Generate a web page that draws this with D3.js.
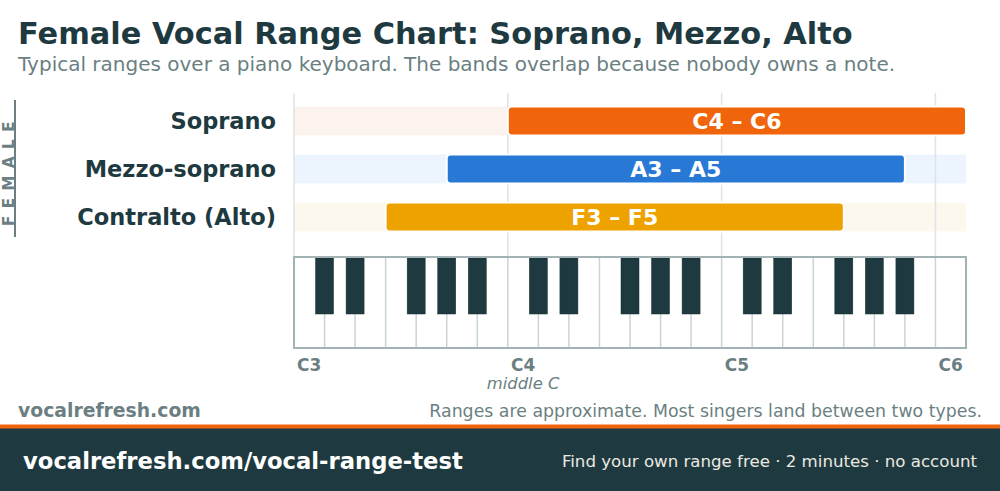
<!DOCTYPE html>
<html><head><meta charset="utf-8">
<script src="https://cdn.jsdelivr.net/npm/d3@7"></script>
<style>
html,body{margin:0;padding:0;background:#fff;}
svg{display:block;font-family:"DejaVu Sans",sans-serif;}
</style></head>
<body>
<svg id="chart" width="1000" height="491"></svg>
<script>
// ---- data ----
const voiceTypes = ["Soprano", "Mezzo-soprano", "Contralto (Alto)"];
const lowNotes = ["C4", "A3", "F3"];
const highNotes = ["C6", "A5", "F5"];
const barColors = ["#f0650c", "#2879d6", "#eea200"];
const trackColors = ["#fcf3ee", "#ecf4fd", "#fcf8ee"];
const octaveTicks = ["C3", "C4", "C5", "C6"];
const keyboardLow = "C3";
const keyboardHigh = "C6";
const letters = ["C", "D", "E", "F", "G", "A", "B"];
const blackAfter = ["C", "D", "F", "G", "A"];

const noteIndex = n => letters.indexOf(n[0]) + (parseInt(n.slice(1)) - 3) * 7;

const svg = d3.select("#chart");
const dark = "#1e3a40", grey = "#6b7f82";

const lo = noteIndex(keyboardLow), hi = noteIndex(keyboardHigh) + 1;
const x = d3.scaleLinear().domain([lo, hi]).range([294, 966]);
const y = d3.scaleBand().domain(voiceTypes).range([97, 241]).paddingInner(0.4).paddingOuter(0.2);

// title
svg.append("text").attr("x", 18).attr("y", 44).attr("font-size", 30.4).attr("font-weight", "bold")
  .attr("fill", dark).text("Female Vocal Range Chart: Soprano, Mezzo, Alto");
svg.append("text").attr("x", 18).attr("y", 71).attr("font-size", 20).attr("fill", grey)
  .text("Typical ranges over a piano keyboard. The bands overlap because nobody owns a note.");

// side label
svg.append("line").attr("x1", 15).attr("x2", 15).attr("y1", 100).attr("y2", 237)
  .attr("stroke", grey).attr("stroke-width", 2);
svg.append("text").attr("transform", "translate(13.5,170) rotate(-90)").attr("text-anchor", "middle")
  .attr("font-size", 15).attr("font-weight", "bold").attr("letter-spacing", 7.5).attr("fill", grey)
  .text("FEMALE");

// tracks
const rows = voiceTypes.map((v, i) => ({v, lo: lowNotes[i], hi: highNotes[i], c: barColors[i], t: trackColors[i]}));
svg.append("g").selectAll("rect").data(rows).join("rect")
  .attr("x", x(lo)).attr("width", x(hi) - x(lo))
  .attr("y", d => y(d.v)).attr("height", y.bandwidth()).attr("fill", d => d.t);

// grid
svg.append("g").selectAll("line").data(octaveTicks).join("line")
  .attr("x1", d => x(noteIndex(d))).attr("x2", d => x(noteIndex(d)))
  .attr("y1", 93).attr("y2", 257).attr("stroke", "#dde4e5").attr("stroke-width", 1.5);

// bars
svg.append("g").selectAll("rect").data(rows).join("rect")
  .attr("x", d => x(noteIndex(d.lo))).attr("width", d => x(noteIndex(d.hi) + 1) - x(noteIndex(d.lo)))
  .attr("y", d => y(d.v)).attr("height", y.bandwidth()).attr("rx", 4)
  .attr("fill", d => d.c).attr("stroke", "#fff").attr("stroke-width", 2);
svg.append("g").selectAll("text").data(rows).join("text")
  .attr("x", d => (x(noteIndex(d.lo)) + x(noteIndex(d.hi) + 1)) / 2)
  .attr("y", d => y(d.v) + y.bandwidth() / 2).attr("dy", "0.36em")
  .attr("text-anchor", "middle").attr("font-size", 22).attr("font-weight", "bold").attr("fill", "#fff")
  .text(d => `${d.lo} – ${d.hi}`);

// category labels
svg.append("g").selectAll("text").data(rows).join("text")
  .attr("x", 276).attr("y", d => y(d.v) + y.bandwidth() / 2).attr("dy", "0.36em")
  .attr("text-anchor", "end").attr("font-size", 22.5).attr("font-weight", "bold").attr("fill", dark)
  .text(d => d.v);

// keyboard
const kTop = 257, kBot = 348;
const whites = d3.range(lo, hi);
const kb = svg.append("g");
kb.append("rect").attr("x", x(lo)).attr("y", kTop).attr("width", x(hi) - x(lo)).attr("height", kBot - kTop)
  .attr("fill", "#fff");
kb.selectAll("line.wk").data(whites.slice(1)).join("line").attr("class", "wk")
  .attr("x1", d => x(d)).attr("x2", d => x(d)).attr("y1", kTop).attr("y2", kBot)
  .attr("stroke", "#c9d4d6").attr("stroke-width", 1.5);
const blacks = whites.filter(i => i < hi - 1 && blackAfter.includes(letters[i % 7]));
const bw = 18;
kb.selectAll("rect.bk").data(blacks).join("rect").attr("class", "bk")
  .attr("x", d => x(d + 1) - bw / 2).attr("width", bw).attr("y", kTop + 1).attr("height", 56)
  .attr("fill", dark).attr("stroke", "#16302f").attr("stroke-width", 0.5);
kb.append("rect").attr("x", x(lo)).attr("y", kTop).attr("width", x(hi) - x(lo)).attr("height", kBot - kTop)
  .attr("fill", "none").attr("stroke", "#a3b2b4").attr("stroke-width", 2);

// axis labels
const kw = x(1) - x(0);
svg.append("g").selectAll("text").data(octaveTicks).join("text")
  .attr("x", d => x(noteIndex(d)) + kw / 2).attr("y", 371).attr("text-anchor", "middle")
  .attr("font-size", 17).attr("font-weight", "bold").attr("fill", grey).text(d => d);
svg.append("text").attr("x", x(noteIndex("C4")) + kw / 2).attr("y", 389).attr("text-anchor", "middle")
  .attr("font-size", 16.4).attr("font-style", "italic").attr("fill", grey).text("middle C");

// footer
svg.append("text").attr("x", 18).attr("y", 417).attr("font-size", 18.8).attr("font-weight", "bold")
  .attr("fill", grey).text("vocalrefresh.com");
svg.append("text").attr("x", 982).attr("y", 417).attr("text-anchor", "end").attr("font-size", 17.35)
  .attr("fill", grey).text("Ranges are approximate. Most singers land between two types.");
svg.append("rect").attr("x", 0).attr("y", 428).attr("width", 1000).attr("height", 63).attr("fill", dark);
svg.append("rect").attr("x", 0).attr("y", 424.5).attr("width", 1000).attr("height", 4).attr("fill", "#f0650c");
svg.append("text").attr("x", 23).attr("y", 469).attr("font-size", 22.7).attr("font-weight", "bold")
  .attr("fill", "#fff").text("vocalrefresh.com/vocal-range-test");
svg.append("text").attr("x", 977).attr("y", 467).attr("text-anchor", "end").attr("font-size", 16.64)
  .attr("fill", "#ece9e0").text("Find your own range free · 2 minutes · no account");
</script>
</body></html>
